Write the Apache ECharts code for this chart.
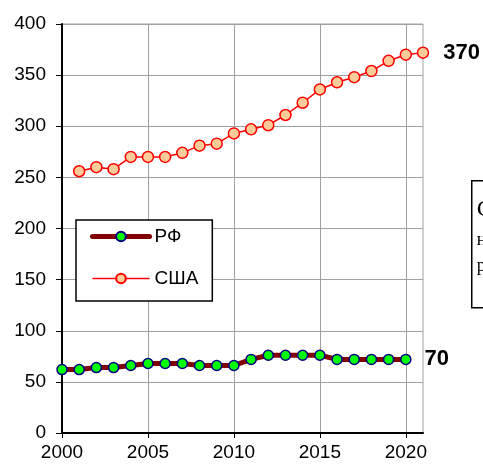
<!DOCTYPE html>
<html>
<head>
<meta charset="utf-8">
<script src="https://cdn.jsdelivr.net/npm/echarts@6/dist/echarts.min.js"></script>
<style>
html,body{margin:0;padding:0;background:#fff;}
#c{width:483px;height:467px;}
</style>
</head>
<body>
<div id="c"></div>
<script>
var seriesNames = ['РФ', 'США'];
var yearsRF = [2000,2001,2002,2003,2004,2005,2006,2007,2008,2009,2010,2011,2012,2013,2014,2015,2016,2017,2018,2019,2020];
var valuesRF = [62,62,64,64,66,68,68,68,66,66,66,72,76,76,76,76,72,72,72,72,72];
var yearsUSA = [2001,2002,2003,2004,2005,2006,2007,2008,2009,2010,2011,2012,2013,2014,2015,2016,2017,2018,2019,2020,2021];
var valuesUSA = [256,260,258,270,270,270,274,281,283,293,297,301,311,323,336,343,348,354,364,370,372];
var endLabels = ['70', '370'];
var xTicks = [2000,2005,2010,2015,2020];
var boxLines = ['С', 'н', 'р'];

var FONT = '"Liberation Sans", Arial, sans-serif';

function buildData(xs, ys, endText, dist) {
  return xs.map(function (x, i) {
    var d = { value: [x, ys[i]] };
    if (i === xs.length - 1) {
      d.label = {
        show: true, position: 'right', distance: dist,
        formatter: endText, fontSize: 22, fontWeight: 'bold',
        color: '#000', fontFamily: FONT
      };
    }
    return d;
  });
}

var chart = echarts.init(document.getElementById('c'), null, { renderer: 'canvas' });
chart.setOption({
  animation: false,
  backgroundColor: '#fff',
  grid: {
    left: 62, right: 60, top: 24, bottom: 34,
    show: true, borderColor: '#a0a0a0', borderWidth: 1, backgroundColor: 'transparent'
  },
  xAxis: {
    type: 'value', min: 2000, max: 2021, interval: 5,
    axisLine: { show: true, onZero: false, lineStyle: { color: '#000', width: 2 } },
    axisTick: { show: true, inside: false, length: 5, customValues: xTicks, lineStyle: { color: '#000', width: 1 } },
    axisLabel: { customValues: xTicks, margin: 10, fontSize: 19, color: '#000', fontFamily: FONT,
      formatter: function (v) { return String(v); } },
    splitLine: { show: true, lineStyle: { color: '#a0a0a0', width: 1 } }
  },
  yAxis: {
    type: 'value', min: 0, max: 400, interval: 50,
    axisLine: { show: true, lineStyle: { color: '#000', width: 2 } },
    axisTick: { show: true, inside: false, length: 6, lineStyle: { color: '#000', width: 1 } },
    axisLabel: { margin: 16, fontSize: 19, color: '#000', fontFamily: FONT },
    splitLine: { show: true, lineStyle: { color: '#a0a0a0', width: 1 } }
  },
  legend: {
    orient: 'vertical', left: 76, top: 220,
    backgroundColor: '#fff', borderColor: '#000', borderWidth: 1.5,
    padding: [7, 14, 13, 14],
    itemWidth: 57, itemHeight: 12, itemGap: 23,
    textStyle: { fontSize: 19, color: '#000', fontFamily: FONT },
    data: [
      { name: seriesNames[0], lineStyle: { width: 5, color: '#800000', cap: 'round' } },
      { name: seriesNames[1], lineStyle: { width: 1.5, color: '#ff0000' } }
    ]
  },
  series: [
    {
      name: seriesNames[0], type: 'line',
      data: buildData(yearsRF, valuesRF, endLabels[0], 13),
      symbol: 'circle', symbolSize: 10,
      lineStyle: { color: '#800000', width: 5 },
      itemStyle: { color: '#00ff00', borderColor: '#000080', borderWidth: 1.5 },
      z: 3
    },
    {
      name: seriesNames[1], type: 'line',
      data: buildData(yearsUSA, valuesUSA, endLabels[1], 14),
      symbol: 'circle', symbolSize: 11,
      lineStyle: { color: '#ff0000', width: 1.5 },
      itemStyle: { color: '#ffcc99', borderColor: '#ff0000', borderWidth: 1.5 },
      z: 4
    }
  ],
  graphic: [
    {
      type: 'group', left: 471, top: 180,
      children: [
        { type: 'rect', shape: { x: 0, y: 0, width: 60, height: 127 },
          style: { fill: '#fff', stroke: '#000', lineWidth: 1.5 } },
        { type: 'text', x: 5, y: 29, style: { text: boxLines[0], fill: '#000', font: '24px "Liberation Serif", serif', verticalAlign: 'middle' } },
        { type: 'text', x: 5, y: 60, style: { text: boxLines[1], fill: '#000', font: '18px "Liberation Serif", serif', verticalAlign: 'middle' } },
        { type: 'text', x: 5, y: 86, style: { text: boxLines[2], fill: '#000', font: '18px "Liberation Serif", serif', verticalAlign: 'middle' } }
      ]
    }
  ]
});
</script>
</body>
</html>
